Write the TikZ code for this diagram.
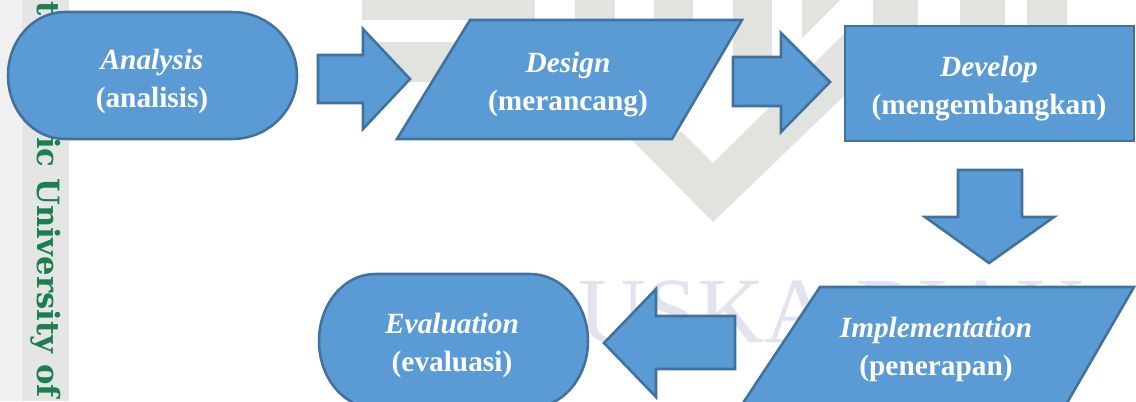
\documentclass[tikz,border=0pt]{standalone}
\usepackage{fontspec}
\setmainfont{Liberation Serif}
\newfontfamily\wmfont{DejaVu Serif}
\definecolor{fillblue}{HTML}{5B9BD5}
\definecolor{edgeblue}{HTML}{41719C}
\definecolor{wmgrey}{HTML}{E1E3DF}
\definecolor{wmlav}{HTML}{E3E3EF}
\definecolor{wmgreen}{HTML}{1B7F50}
\tikzset{
  flowshape/.style={fill=fillblue,draw=edgeblue,line width=1.9pt,line join=miter},
  blockarrow/.style={flowshape,line width=1.9pt},
  flowtext/.style={text=white,align=center,inner sep=0pt,font=\fontsize{22}{28.5}\selectfont\bfseries},
  wmbar/.style={fill=wmgrey,draw=none},
  edgetext/.style={text=wmgreen,rotate=-90,inner sep=0pt,font=\wmfont\bfseries\fontsize{23}{23}\selectfont}
}
\newcommand{\eng}[1]{\textit{#1}}
\begin{document}
\begin{tikzpicture}[x=0.75pt,y=-0.75pt]
\useasboundingbox (0,0) rectangle (1136,401);
\clip (0,0) rectangle (1136,401);
\fill[white] (0,0) rectangle (1136,401);
% margin strip
\fill[black!6] (0,0) rectangle (22,401);
\fill[black!10] (22,0) rectangle (69,401);
\node[edgetext,anchor=base west] (wmt) at (37,1) {t};
\node[edgetext,anchor=base west] (wmu) at (37,137) {ic University of};
% watermark
\fill[wmbar] (362,0) rectangle (535,20);
\fill[wmbar] (575,0) rectangle (615,30);
\fill[wmbar] (654,0) rectangle (693,30);
\fill[wmbar] (733,0) rectangle (772,60);
\fill[wmbar] (802,0) -- (840,0) -- (802,38) -- cycle;
\fill[wmbar] (873,0) rectangle (918,30);
\fill[wmbar] (960,0) rectangle (1005,30);
\fill[wmbar] (1027,0) rectangle (1067,30);
\fill[wmbar] (362,42) rectangle (500,82);
\fill[wmbar] (632,140) -- (713,222) -- (850,90) -- (850,28) -- (713,163) -- (682,132) -- cycle;
\node[text=wmlav,anchor=base west,inner sep=0pt,font=\fontsize{70}{70}\selectfont] (wm) at (578,342) {USKA RIAU};
% shapes
\draw[flowshape] (65,12) -- (232,12) arc[start angle=-90,end angle=90,x radius=65,y radius=63.5] -- (65,139) arc[start angle=90,end angle=270,x radius=57,y radius=63.5] -- cycle;
\draw[flowshape] (470,20) -- (742,20) -- (672,139) -- (397,139) -- cycle;
\draw[flowshape] (845,26) rectangle (1134,141);
\draw[flowshape] (820,287) -- (1134,287) -- (1060,415) -- (735,415) -- cycle;
\draw[flowshape] (375,274) -- (530,274) arc[start angle=-90,end angle=90,x radius=58,y radius=67] -- (375,408) arc[start angle=90,end angle=270,x radius=56,y radius=67] -- cycle;
% block arrows
\draw[blockarrow] (318,55) -- (363,55) -- (363,29) -- (410,79) -- (363,129) -- (363,103) -- (318,103) -- cycle;
\draw[blockarrow] (733,57) -- (781,57) -- (781,33) -- (830,82) -- (781,132) -- (781,106) -- (733,106) -- cycle;
\draw[blockarrow] (958,170) -- (1022,170) -- (1022,217) -- (1054,217) -- (989,263) -- (925,217) -- (958,217) -- cycle;
\draw[blockarrow] (735,316) -- (656,316) -- (656,289) -- (604,343) -- (656,397) -- (656,369) -- (735,369) -- cycle;
% labels
\node[flowtext] (analysis) at (152,81) {\eng{Analysis}\\(analisis)};
\node[flowtext] (design) at (568,85) {\eng{Design}\\(merancang)};
\node[flowtext] (develop) at (989,89) {\eng{Develop}\\(mengembangkan)};
\node[flowtext] (impl) at (936,349) {\eng{Implementation}\\(penerapan)};
\node[flowtext] (eval) at (452,345) {\eng{Evaluation}\\(evaluasi)};
\end{tikzpicture}
\end{document}
